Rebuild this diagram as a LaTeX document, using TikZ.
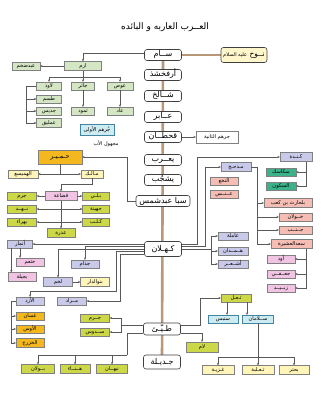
\documentclass[tikz,border=0pt]{standalone}
\usepackage{fontspec}
\usepackage{tikz}
\usetikzlibrary{arrows.meta, calc, backgrounds}
\newfontfamily\arabicfont[Script=Arabic]{DejaVu Sans}
\TeXXeTstate=1
\newcommand{\artxt}[1]{\beginR#1\endR}
\definecolor{cTrunk}{RGB}{185,152,122}
\definecolor{cNuh}{RGB}{255,246,204}
\definecolor{cGreen}{RGB}{213,230,196}
\definecolor{cSky}{RGB}{205,235,242}
\definecolor{cGold}{RGB}{244,184,30}
\definecolor{cCream}{RGB}{255,245,185}
\definecolor{cPink}{RGB}{242,196,228}
\definecolor{cLime}{RGB}{204,216,72}
\definecolor{cLav}{RGB}{201,201,234}
\definecolor{cTeal}{RGB}{60,178,138}
\definecolor{cSalmon}{RGB}{245,189,180}
\tikzset{
	cbox/.style   ={rectangle, rounded corners=2.5pt, draw=black!75, line width=0.6pt, fill=white, minimum width=37pt, minimum height=11pt, inner sep=0pt, text height=5.5pt, text depth=1.5pt, font=\arabicfont\fontsize{8}{9}\selectfont},
	sbox/.style   ={rectangle, draw=black!50, line width=0.35pt, minimum width=28pt, minimum height=8pt, inner sep=0pt, text height=3.4pt, text depth=1pt, font=\arabicfont\fontsize{5.2}{6}\selectfont},
	gbox/.style   ={sbox, fill=cGreen},
	skybox/.style ={sbox, fill=cSky, draw=cyan!60!black},
	goldbox/.style={sbox, fill=cGold},
	crbox/.style  ={sbox, fill=cCream},
	pbox/.style   ={sbox, fill=cPink},
	lbox/.style   ={sbox, fill=cLime},
	vbox/.style   ={sbox, fill=cLav},
	tbox/.style   ={sbox, fill=cTeal},
	slbox/.style  ={sbox, fill=cSalmon},
	wbox/.style   ={sbox, fill=white},
	conn/.style   ={draw=black!65, line width=0.5pt, -{Stealth[length=2.4pt, width=2.2pt]}},
	wire/.style   ={draw=black!65, line width=0.5pt},
	trunk/.style  ={draw=cTrunk, line width=2.6pt},
}
\begin{document}
\begin{tikzpicture}[x=1pt, y=-1pt]
	\useasboundingbox (0,0) rectangle (326,395);
	\node[font=\arabicfont\fontsize{9}{10}\selectfont] (title) at (165,27) {\artxt{العــرب العاربه و البائده}};
	% central line of descent
	\node[cbox] (sam) at (163,55) {\artxt{ســام}};
	\node[cbox] (arfa) at (163,75) {\artxt{أرفخشذ}};
	\node[cbox] (shalikh) at (163,96) {\artxt{شــالخ}};
	\node[cbox] (abir) at (163,117) {\artxt{عــابر}};
	\node[cbox] (qahtan) at (163,137) {\artxt{قحطــان}};
	\node[cbox] (yarub) at (163,160) {\artxt{يعــرب}};
	\node[cbox] (yashjub) at (163,180) {\artxt{يشجُب}};
	\node[cbox, minimum width=54pt] (saba) at (163,201) {\artxt{سبا عبدشمس}};
	\node[cbox, minimum height=15pt] (kahlan) at (163,249) {\artxt{كـهـلان}};
	\node[cbox, minimum height=12pt] (tayy) at (162,329) {\artxt{طـيّـئ}};
	\node[cbox, minimum height=14pt] (jadila) at (162,362) {\artxt{جـديـلة}};
	\node[cbox, fill=cNuh, minimum width=46pt, minimum height=15pt] (nuh) at (244,55) {\artxt{{\fontsize{7.5}{8}\selectfont نــوح} {\fontsize{5}{5}\selectfont عليه السلام}}};
	% Aram
	\node[gbox, minimum width=37pt, minimum height=9pt] (aram) at (83,66) {\artxt{ارم}};
	\node[gbox] (abdukhm) at (26,66) {\artxt{عبدضخم}};
	\node[gbox, minimum width=25pt] (lawidh) at (49,86) {\artxt{لاوذ}};
	\node[gbox, minimum width=23pt] (jathir) at (83,86) {\artxt{جاثر}};
	\node[gbox, minimum width=26pt] (aws) at (120,86) {\artxt{عوص}};
	\node[gbox, minimum width=25pt] (tasm) at (49,99) {\artxt{طسم}};
	\node[gbox, minimum width=25pt] (jadis) at (49,111) {\artxt{جديس}};
	\node[gbox, minimum width=25pt, minimum height=9pt] (amliq) at (49,123) {\artxt{عمليق}};
	\node[gbox, minimum width=23pt] (thamud) at (83,111) {\artxt{ثمود}};
	\node[gbox, minimum width=26pt] (aad) at (120,111) {\artxt{عاد}};
	\node[skybox, minimum width=34pt, minimum height=11pt] (jurhumA) at (97,130) {\artxt{جُرهم الأولى}};
	\node[font=\arabicfont\fontsize{5}{6}\selectfont, inner sep=0pt] (majhul) at (106,144) {\artxt{مجهول الأب}};
	% Himyar
	\node[goldbox, minimum width=44pt, minimum height=14pt, font=\arabicfont\fontsize{6.5}{7}\selectfont] (himyar) at (60,157) {\artxt{حـمـيـر}};
	\node[crbox, minimum width=30pt] (hamaysa) at (23,174) {\artxt{الهميسع}};
	\node[crbox, minimum width=22pt] (malik) at (92,174) {\artxt{مـالـك}};
	\node[pbox, minimum width=32pt, minimum height=9pt] (qudaa) at (61,196) {\artxt{قضاعة}};
	\node[lbox, minimum width=29pt] (jarmA) at (22,196) {\artxt{جرم}};
	\node[lbox, minimum width=29pt] (nahd) at (22,209) {\artxt{نــهــد}};
	\node[lbox, minimum width=29pt] (bahra) at (22,222) {\artxt{بهراء}};
	\node[lbox, minimum width=27pt] (bali) at (96,196) {\artxt{بـلـي}};
	\node[lbox, minimum width=27pt] (juhayna) at (96,209) {\artxt{جهينة}};
	\node[lbox, minimum width=27pt] (kalb) at (96,222) {\artxt{كـلـب}};
	\node[lbox, minimum height=9pt] (udhra) at (61,233) {\artxt{عذرة}};
	% Kahlan, west
	\node[vbox, minimum width=25pt] (anmar) at (20,244) {\artxt{أنمار}};
	\node[pbox] (khatham) at (30,262) {\artxt{خثعم}};
	\node[pbox, minimum height=9pt] (bajila) at (22,277) {\artxt{بجيلة}};
	\node[vbox] (judham) at (85,264) {\artxt{جذام}};
	\node[vbox, minimum width=29pt, minimum height=9pt] (lakhm) at (58,282) {\artxt{لخم}};
	\node[crbox, minimum width=29pt, minimum height=9pt] (bnudar) at (95,282) {\artxt{بنوالدار}};
	\node[vbox] (azd) at (30,301) {\artxt{الأزد}};
	\node[vbox, minimum width=29pt] (murad) at (72,301) {\artxt{مــراد}};
	\node[goldbox] (ghassan) at (30,316) {\artxt{غسان}};
	\node[goldbox] (awsB) at (30,329) {\artxt{الأوس}};
	\node[goldbox, minimum height=9pt] (khazraj) at (30,343) {\artxt{الخزرج}};
	% Kahlan, east
	\node[wbox, minimum width=42pt, minimum height=12pt] (jurhumB) at (217,137) {\artxt{جرهم الثانية}};
	\node[vbox, minimum width=32pt, minimum height=9pt] (kinda) at (296,157) {\artxt{كـنـدة}};
	\node[tbox, minimum width=30pt] (sakasik) at (281,172) {\artxt{سكاسك}};
	\node[tbox, minimum width=30pt] (sakun) at (281,186) {\artxt{السكون}};
	\node[vbox, minimum width=30pt, minimum height=9pt] (madhhij) at (236,167) {\artxt{مـذحـج}};
	\node[slbox] (nakha) at (224,181) {\artxt{النخع}};
	\node[slbox] (ans) at (224,194) {\artxt{عــنــس}};
	\node[slbox, minimum width=48pt, minimum height=9pt] (balharith) at (288,203) {\artxt{بلحارث بن كعب}};
	\node[slbox, minimum width=33pt] (khawlan) at (295.5,217) {\artxt{خــولان}};
	\node[slbox, minimum width=33pt] (janab) at (295.5,230) {\artxt{جــنــب}};
	\node[slbox, minimum width=41pt, minimum height=9pt] (saad) at (291.5,244) {\artxt{سعدالعشيرة}};
	\node[pbox] (awd) at (281,259) {\artxt{أود}};
	\node[pbox] (jufi) at (281,274) {\artxt{جعــفــي}};
	\node[pbox] (zubayd) at (281,288) {\artxt{زبــيــد}};
	\node[vbox, minimum width=30pt] (amila) at (233,236) {\artxt{عاملة}};
	\node[vbox, minimum width=30pt] (hamdan) at (233,251) {\artxt{هــمــدان}};
	\node[vbox, minimum width=30pt] (ashar) at (233,264) {\artxt{أشــعــر}};
	% Tayy
	\node[lbox, minimum width=29pt] (jarmB) at (95,318) {\artxt{جــرم}};
	\node[lbox, minimum width=29pt] (sadus) at (95,332) {\artxt{ســدوس}};
	\node[lbox, minimum width=33pt, minimum height=9pt] (bulan) at (38,369) {\artxt{بــولان}};
	\node[lbox, minimum width=30pt, minimum height=9pt] (hana) at (75,369) {\artxt{هــنــاء}};
	\node[lbox, minimum width=31pt, minimum height=9pt] (nabhan) at (112,369) {\artxt{نبهــان}};
	\node[lbox, minimum width=30pt] (thual) at (236,298) {\artxt{ثـعـل}};
	\node[skybox, minimum width=30pt] (sinbis) at (223,319) {\artxt{سنبس}};
	\node[skybox, minimum width=31pt] (salaman) at (258,319) {\artxt{ســلامان}};
	\node[lbox, minimum width=32pt, minimum height=10pt] (lam) at (202,347) {\artxt{لام}};
	\node[crbox, minimum width=32pt, minimum height=9pt] (ghaziyya) at (218,370) {\artxt{غـزيـة}};
	\node[crbox, minimum width=32pt, minimum height=9pt] (thalaba) at (258,370) {\artxt{ثـعـلبة}};
	\node[crbox, minimum width=30pt, minimum height=9pt] (buhtur) at (294,370) {\artxt{بحتر}};
	% trunk and background
	\begin{scope}[on background layer]
		\fill[white] (0,0) rectangle (326,395);
		\draw[trunk] (sam.center) -- (jadila.center);
		\draw[trunk] (sam.east) -- (nuh.west);
	\end{scope}
	% connectors, upper west
	\draw[conn] ($(sam.west)+(0,-2)$) -| (aram.north);
	\draw[conn] (aram.west) -- (abdukhm.east);
	\coordinate (aramj) at ($(aram.south)+(0,6.5)$);
	\draw[wire] (aram.south) -- (aramj);
	\draw[conn] (aramj) -| (lawidh.north);
	\draw[conn] (aramj) -- (jathir.north);
	\draw[conn] (aramj) -| (aws.north);
	\coordinate (lawj) at ($(lawidh.west)+(-10,0)$);
	\draw[wire] (lawidh.west) -- (lawj);
	\draw[conn] (lawj) |- (tasm.west);
	\draw[conn] (lawj) |- (jadis.west);
	\draw[conn] (lawj) |- (amliq.west);
	\draw[conn] (jathir.south) -- (thamud.north);
	\draw[conn] (aws.south) -- (aad.north);
	\draw[conn] (saba.west) -- ++(-8,0) |- (himyar.east);
	\coordinate (himj) at (himyar.south |- hamaysa.east);
	\draw[wire] (himyar.south) -- (himj);
	\draw[conn] (himj) -- (hamaysa.east);
	\draw[conn] (himj) -- (malik.west);
	\draw[conn] (malik.south) -- ++(0,6) -| (qudaa.north);
	\draw[conn] (qudaa.west) -- (jarmA.east);
	\draw[conn] (qudaa.east) -- (bali.west);
	\draw[conn] (qudaa.south) -- (udhra.north);
	\draw[conn] (qudaa.south |- nahd.east) -- (nahd.east);
	\draw[conn] (qudaa.south |- juhayna.west) -- (juhayna.west);
	\draw[conn] (qudaa.south |- bahra.east) -- (bahra.east);
	\draw[conn] (qudaa.south |- kalb.west) -- (kalb.west);
	% connectors, Kahlan west
	\draw[conn] ($(kahlan.west)+(0,-5)$) -- (anmar.east);
	\draw[conn] ($(kahlan.west)+(0,-2.5)$) -| (judham.north);
	\draw[conn] ($(kahlan.west)+(0,0)$) -| (lakhm.north);
	\draw[conn] ($(kahlan.west)+(0,2.5)$) -- ++(-28,0) |- ($(azd.north)+(0,-6)$) -- (azd.north);
	\draw[conn] ($(kahlan.west)+(0,5)$) -- ++(-24,0) |- (murad.east);
	\draw[conn] (anmar.south) -- (anmar.south |- khatham.north);
	\coordinate (anmj) at ($(anmar.south west)+(4,0)$);
	\draw[conn] (anmj) -- (anmj |- bajila.north);
	\draw[conn] (lakhm.east) -- (bnudar.west);
	\coordinate (azdj) at ($(azd.west)+(-5,0)$);
	\draw[wire] (azd.west) -- (azdj);
	\draw[conn] (azdj) |- (ghassan.west);
	\draw[conn] (azdj) |- (awsB.west);
	\draw[conn] (azdj) |- (khazraj.west);
	% connectors, Kahlan east
	\draw[conn] (qahtan.east) -- (jurhumB.west);
	\draw[conn] ($(kahlan.east)+(0,-5)$) -- ++(15,0) |- (kinda.west);
	\draw[conn] ($(kahlan.east)+(0,-2.5)$) -- ++(23,0) |- (madhhij.west);
	\coordinate (kahj) at ($(kahlan.east)+(29,0)$);
	\draw[wire] (kahlan.east) -- (kahj);
	\draw[conn] (kahj) |- (amila.west);
	\draw[conn] (kahj) |- (hamdan.west);
	\draw[conn] (kahj) |- (ashar.west);
	\coordinate (kinj) at ($(kinda.south east)+(-6,0)$);
	\draw[conn] (kinj) |- (sakasik.east);
	\draw[conn] (kinj) |- (sakun.east);
	\coordinate (madj) at ($(madhhij.east)+(6,0)$);
	\draw[wire] (madhhij.east) -- (madj);
	\draw[conn] (madj) |- (balharith.west);
	\draw[conn] (madj) |- (khawlan.west);
	\draw[conn] (madj) |- (janab.west);
	\draw[conn] (madj) |- (saad.west);
	\coordinate (saj) at ($(saad.south east)+(-6,0)$);
	\draw[conn] (saj) |- (awd.east);
	\draw[conn] (saj) |- (jufi.east);
	\draw[conn] (saj) |- (zubayd.east);
	% connectors, Tayy
	\coordinate (tayj) at ($(tayy.west)+(-22,-4)$);
	\draw[wire] ($(tayy.west)+(0,-4)$) -- (tayj);
	\draw[conn] (tayj) |- (jarmB.east);
	\draw[conn] (tayj) |- (sadus.east);
	\coordinate (tayk) at ($(tayy.west)+(-16,4)$);
	\coordinate (tayb) at ($(tayk)+(0,22)$);
	\draw[wire] ($(tayy.west)+(0,4)$) -- (tayk) -- (tayb);
	\draw[conn] (tayb) -| (bulan.north);
	\draw[conn] (tayb) -| (hana.north);
	\draw[conn] (tayb) -| (nabhan.north);
	\draw[conn] ($(tayy.east)+(0,-4)$) -- ++(19,0) |- (thual.west);
	\draw[conn] ($(tayy.east)+(0,4)$) -| (lam.north);
	\coordinate (thl) at ($(thual.south)+(-9,0)$);
	\coordinate (thr) at ($(thual.south)+(11,0)$);
	\draw[conn] (thl) -- (thl |- sinbis.north);
	\draw[conn] (thr) -- (thr |- salaman.north);
	\coordinate (salj) at ($(salaman.south)+(0,34)$);
	\draw[wire] (salaman.south) -- (salj);
	\draw[conn] (salj) -| (ghaziyya.north);
	\draw[conn] (salj) -- (thalaba.north);
	\draw[conn] (salj) -| (buhtur.north);
\end{tikzpicture}
\end{document}
